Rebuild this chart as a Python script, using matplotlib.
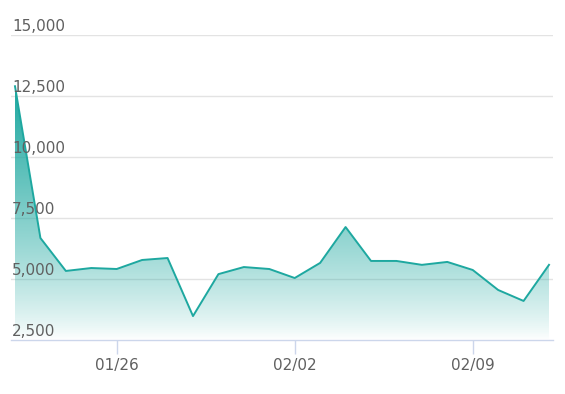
import numpy as np
import matplotlib
matplotlib.use("Agg")
import matplotlib.pyplot as plt
from matplotlib.patches import Polygon
from matplotlib.colors import ListedColormap

# daily values, 01/22 .. 02/12
days = list(range(22))
values = [12900, 6680, 5330, 5450, 5410, 5780, 5860, 3480, 5200, 5490, 5410,
          5040, 5660, 7130, 5740, 5740, 5580, 5700, 5370, 4550, 4100, 5580]
tick_pos = [4, 11, 18]
tick_labels = ["01/26", "02/02", "02/09"]
y_ticks = [2500, 5000, 7500, 10000, 12500, 15000]

line_col = "#1ea8a0"
txt_col = "#606060"

fig = plt.figure(figsize=(5.65, 3.94), dpi=100)
ax = fig.add_axes([11 / 565, 1 - 340 / 394, 542 / 565, 305 / 394])
ax.set_xlim(-0.157, 21.157)
ax.set_ylim(2500, 15000)

# gridlines and labels sitting on them
for v in y_ticks:
    if v > 2500:
        ax.axhline(v, color="#e3e3e3", lw=1, zorder=0)
    ax.text(0.002, v + 30, f"{v:,}", transform=ax.get_yaxis_transform(),
            ha="left", va="bottom", fontsize=11, color=txt_col, zorder=5)

# gradient fill under the line
ymax = max(values)
f = np.linspace(0, 1, 256)
rgba = np.zeros((256, 4))
rgba[:, :3] = [0.12, 0.66, 0.63]
rgba[:, 3] = f ** 0.8
cmap = ListedColormap(rgba)
grad = f.reshape(-1, 1)
im = ax.imshow(grad, extent=[days[0], days[-1], 2500, ymax], origin="lower",
               aspect="auto", cmap=cmap, zorder=1)
verts = [(days[0], 2500)] + list(zip(days, values)) + [(days[-1], 2500)]
poly = Polygon(verts, closed=True, facecolor="none", edgecolor="none")
ax.add_patch(poly)
im.set_clip_path(poly)

ax.plot(days, values, color=line_col, lw=1.4, zorder=3)

for s in ["top", "left", "right"]:
    ax.spines[s].set_visible(False)
ax.spines["bottom"].set_color("#ccd6eb")
ax.spines["bottom"].set_linewidth(1)
ax.set_yticks([])
ax.set_xticks(tick_pos)
ax.set_xticklabels(tick_labels)
ax.tick_params(axis="x", length=10, width=1, color="#ccd6eb", labelsize=11,
               labelcolor=txt_col, pad=3)

fig.savefig("out.png", dpi=100)
